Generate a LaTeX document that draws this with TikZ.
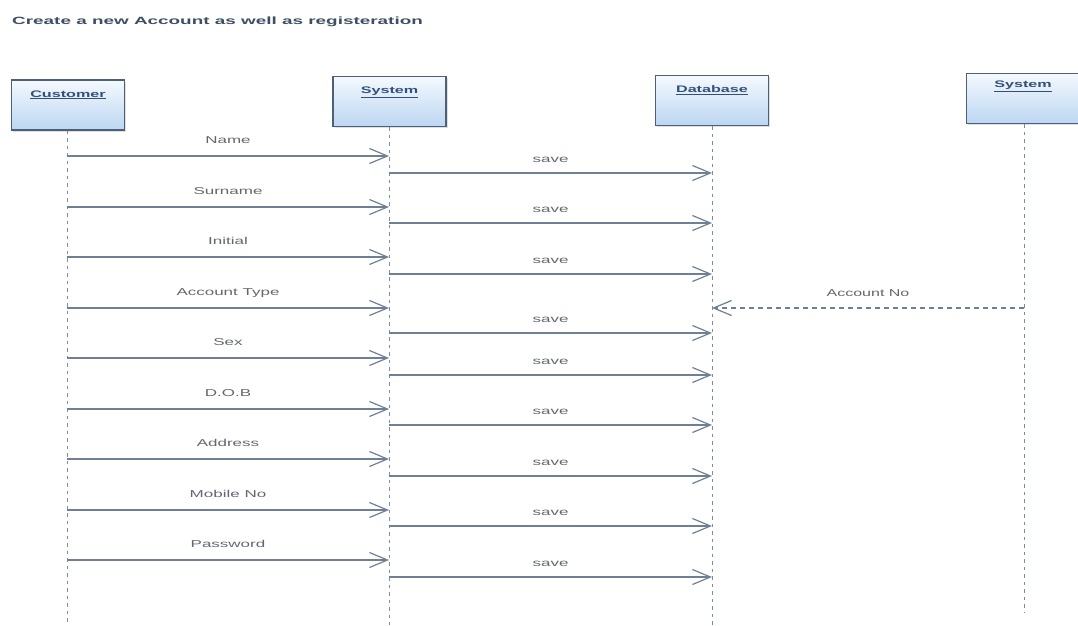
\documentclass[tikz,border=0pt]{standalone}
\usepackage{fontspec}
\setmainfont{Liberation Sans}
\usetikzlibrary{arrows.meta,shadows}
\newcommand{\hstr}[2][1.7]{\scalebox{#1}[1]{#2}}
\definecolor{linec}{HTML}{6E7F96}
\definecolor{boxborder}{HTML}{4E6078}
\definecolor{boxtop}{HTML}{F4F9FE}
\definecolor{boxbot}{HTML}{BCD6F2}
\definecolor{lbl}{HTML}{62676E}
\definecolor{titlec}{HTML}{3E4E63}
\definecolor{headc}{HTML}{34507A}
\tikzset{
  objbox/.style={draw=boxborder, line width=1.4pt, top color=boxtop, bottom color=boxbot,
    minimum width=113pt, minimum height=50pt, inner sep=0pt,
    drop shadow={shadow xshift=1.5pt, shadow yshift=-1.5pt, opacity=0.25}},
  objlbl/.style={font=\fontsize{9.5}{11}\selectfont\bfseries, text=headc, inner sep=0pt},
  life/.style={draw=linec!90, line width=1pt, dash pattern=on 3.5pt off 4pt},
  msg/.style={draw=linec, line width=1.3pt, -{Straight Barb[length=18pt,width=15pt,line width=1.2pt]}},
  ret/.style={draw=linec, line width=1.3pt, dash pattern=on 5pt off 4pt, -{Straight Barb[length=18pt,width=15pt,line width=1.2pt]}},
  mlbl/.style={font=\fontsize{10}{12}\selectfont, text=lbl, anchor=base, inner sep=0pt}
}
\begin{document}
\begin{tikzpicture}[x=1pt,y=-1pt]
\useasboundingbox (0,0) rectangle (1078,625);
\node[anchor=base west, inner sep=0pt, font=\fontsize{10.5}{12}\selectfont\bfseries, text=titlec] (title) at (12,24) {\hstr[1.8]{Create a new Account as well as registeration}};

% objects
\node[objbox] (cust) at (68,105) {};
\node[objbox] (sys) at (389.5,101.5) {};
\node[objbox] (db) at (712,100.5) {};
\node[objbox] (sys2) at (1023,98.5) {};
\node[objlbl, anchor=north] (custl) at ([yshift=-11pt]cust.north) {\hstr{\underline{Customer}}};
\node[objlbl, anchor=north] (sysl) at ([yshift=-11pt]sys.north) {\hstr{\underline{System}}};
\node[objlbl, anchor=north] (dbl) at ([yshift=-11pt]db.north) {\hstr{\underline{Database}}};
\node[objlbl, anchor=north] (sys2l) at ([yshift=-8pt]sys2.north) {\hstr{\underline{System}}};

% lifelines
\coordinate (custend) at (67,625);
\coordinate (sysend) at (389,625);
\coordinate (dbend) at (712,625);
\coordinate (sys2end) at (1024,612);
\draw[life] (cust.south -| custend) -- (custend);
\draw[life] (sys.south -| sysend) -- (sysend);
\draw[life] (db.south -| dbend) -- (dbend);
\draw[life] (sys2.south -| sys2end) -- (sys2end);

% customer -> system messages
\foreach \y/\t/\n in {156/Name/1,207/Surname/2,257/Initial/3,308/Account Type/4,358/Sex/5,409/D.O.B/6,459/Address/7,510/Mobile No/8,560/Password/9}{
  \coordinate (c\n) at (67,\y);
  \coordinate (s\n) at (389,\y);
  \draw[msg] (c\n) -- node[mlbl, yshift=13pt] (ml\n) {\hstr{\t}} (s\n);
}
% system -> database save
\foreach \y/\n in {173/1,223/2,274/3,333/4,375/5,425/6,476/7,526/8,577/9}{
  \coordinate (sa\n) at (389,\y);
  \coordinate (da\n) at (712,\y);
  \draw[msg] (sa\n) -- node[mlbl, yshift=11pt] (sl\n) {\hstr{save}} (da\n);
}
% account no return
\coordinate (r1) at (1024,308);
\coordinate (r2) at (712,308);
\draw[ret] (r1) -- node[mlbl, yshift=12pt] (accl) {\hstr[1.6]{Account No}} (r2);
\end{tikzpicture}
\end{document}
